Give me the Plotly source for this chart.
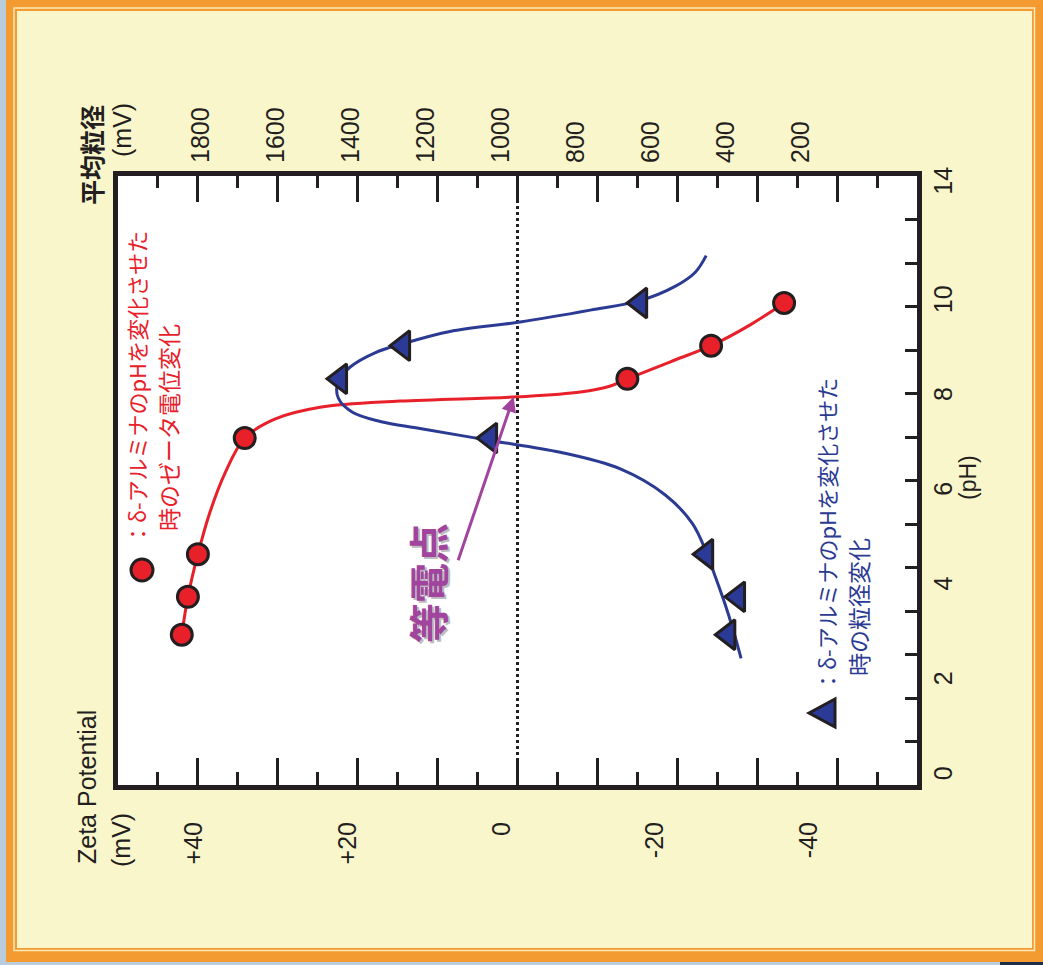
import plotly.graph_objects as go

# ---- figure geometry (pixels) ----
W, H = 1043, 965
L, R, T, B = 118, 126, 176, 180
PW, PH_PX = W - L - R, H - T - B

INK = "#231F20"
RED = "#E8202A"
BLUE_FILL = "#2B3A96"
BLUE_LINE = "#2B3A92"
PURPLE = "#A0449E"

# ---- measured points (same pH settings for both series) ----
PH = [3.0, 3.8, 4.7, 7.15, 8.4, 9.1, 10.0]
ZETA_MV = [43.7, 42.9, 41.6, 35.5, -14.3, -25.2, -34.7]
SIZE = [437, 411, 496, 1072, 1472, 1304, 672]

# ---- hand-fitted trend curves ----
ZETA_FIT_PH = [3.0, 3.8, 4.7, 5.6, 6.4, 7.15, 7.55, 7.8, 7.93, 8.02, 8.12, 8.25,
               8.4, 8.76, 9.1, 9.55, 10.0]
ZETA_FIT_MV = [43.7, 42.9, 41.6, 40.0, 38.1, 35.5, 31.6, 25.7, 15.3, 0.0, -8.2,
               -12.1, -14.3, -19.9, -25.2, -30.4, -34.7]

SIZE_FIT_PH = [2.5, 3.1, 3.7, 4.3, 4.75, 5.35, 5.95, 6.5, 6.85, 7.1, 7.35, 7.5,
               7.7, 8.0, 8.35, 8.65, 8.95, 9.15, 9.4, 9.6, 9.85, 10.05, 10.35,
               10.65, 11.0]
SIZE_FIT = [403, 424, 448, 475, 496, 533, 605, 725, 885, 1072, 1259, 1365, 1440,
            1477, 1477, 1445, 1379, 1301, 1179, 992, 805, 672, 579, 525, 496]

# ---- axis labels ----
ZETA_TICKS = [40, 20, 0, -20, -40]
ZETA_TICK_TEXT = ["+40", "+20", "0", "-20", "-40"]
SIZE_TICKS = [1800, 1600, 1400, 1200, 1000, 800, 600, 400, 200]
PH_TICKS = [0, 2, 4, 6, 8, 10, 12.5]
PH_TICK_TEXT = ["0", "2", "4", "6", "8", "10", "14"]

LEGEND_TEXT_1 = "：δ-アルミナのpHを変化させた"
LEGEND_ZETA_2 = "時のゼータ電位変化"
LEGEND_SIZE_2 = "時の粒径変化"
IEP_TEXT = "等電点"


def px(x):
    return (x - L) / PW


def py(y):
    return (H - B - y) / PH_PX


fig = go.Figure()

fig.add_trace(go.Scatter(x=ZETA_FIT_MV, y=ZETA_FIT_PH, mode="lines",
                         line=dict(color=RED, width=3, shape="spline", smoothing=1.0),
                         xaxis="x", yaxis="y", hoverinfo="skip"))
fig.add_trace(go.Scatter(x=SIZE_FIT, y=SIZE_FIT_PH, mode="lines",
                         line=dict(color=BLUE_LINE, width=3, shape="spline", smoothing=1.0),
                         xaxis="x2", yaxis="y", hoverinfo="skip"))
fig.add_trace(go.Scatter(x=ZETA_MV, y=PH, mode="markers",
                         marker=dict(symbol="circle", size=21, color=RED,
                                     line=dict(color=INK, width=3)),
                         xaxis="x", yaxis="y"))
fig.add_trace(go.Scatter(x=SIZE, y=PH, mode="markers",
                         marker=dict(symbol="triangle-left", size=26, color=BLUE_FILL,
                                     line=dict(color=INK, width=3)),
                         xaxis="x2", yaxis="y"))

# empty traces so the frame-tick axes get their own subplots
for xa, ya in (("x3", "y"), ("x4", "y"), ("x", "y2")):
    fig.add_trace(go.Scatter(x=[None], y=[None], mode="lines", xaxis=xa, yaxis=ya,
                             hoverinfo="skip", showlegend=False))

frame_ticks = dict(showticklabels=False, showgrid=False, zeroline=False, showline=False,
                   ticks="inside", tickwidth=3, tickcolor=INK, fixedrange=True)

fig.update_layout(
    width=W, height=H,
    margin=dict(l=L, r=R, t=T, b=B, autoexpand=False),
    paper_bgcolor="#B9CCDD", plot_bgcolor="white", showlegend=False,
    font=dict(family="Liberation Sans, Arial, sans-serif", size=25, color=INK),
    xaxis=dict(range=[52, -52], tickvals=ZETA_TICKS, ticktext=ZETA_TICK_TEXT,
               tickangle=-90, ticks="", showgrid=False, zeroline=False,
               showline=True, mirror=True, linewidth=5, linecolor=INK,
               ticklabelshift=16, ticklabelstandoff=22),
    xaxis2=dict(overlaying="x", side="top", anchor="y", range=[2064, -66],
                tickvals=SIZE_TICKS, tickangle=-90, ticks="", showgrid=False,
                zeroline=False, ticklabelshift=16, ticklabelstandoff=12),
    xaxis3=dict(overlaying="x", side="bottom", anchor="y", range=[0, 20],
                tick0=0, dtick=2, ticklen=27,
                minor=dict(tick0=0, dtick=1, ticks="inside", ticklen=13,
                           tickwidth=3, tickcolor=INK, showgrid=False),
                **frame_ticks),
    xaxis4=dict(overlaying="x", side="top", anchor="y", range=[0, 20],
                tick0=0, dtick=2, ticklen=26,
                minor=dict(tick0=0, dtick=1, ticks="inside", ticklen=12,
                           tickwidth=3, tickcolor=INK, showgrid=False),
                **frame_ticks),
    yaxis=dict(side="right", range=[-0.17, 12.68], tickvals=PH_TICKS,
               ticktext=PH_TICK_TEXT, tickangle=-90, ticks="", showgrid=False,
               zeroline=False, showline=True, mirror=True, linewidth=5,
               linecolor=INK, ticklabelstandoff=0),
    yaxis2=dict(overlaying="y", side="right", anchor="x", range=[0, 14],
                tick0=0, dtick=1, ticklen=12, **frame_ticks),
)

# ---- page background: orange frame with cream rule and pale yellow panel ----
shapes = [
    dict(type="rect", xref="paper", yref="paper", x0=px(6), x1=px(1043), y0=py(962), y1=py(0),
         fillcolor="#F39B30", line=dict(width=0), layer="below"),
    dict(type="rect", xref="paper", yref="paper", x0=px(1000), x1=px(1043), y0=py(965), y1=py(962),
         fillcolor="#1E2E4A", line=dict(width=0), layer="below"),
    dict(type="rect", xref="paper", yref="paper", x0=px(14), x1=px(1034.5), y0=py(950.5), y1=py(8),
         fillcolor="rgba(0,0,0,0)", line=dict(color="#FCE9B8", width=1.5), layer="below"),
    dict(type="rect", xref="paper", yref="paper", x0=px(17), x1=px(1032), y0=py(948), y1=py(11),
         fillcolor="#FAF6CB", line=dict(width=0), layer="below"),
    dict(type="rect", xref="paper", yref="paper", x0=0, x1=1, y0=0, y1=1,
         fillcolor="white", line=dict(width=0), layer="below"),
    # zero-potential reference line
    dict(type="line", xref="x", yref="paper", x0=0, x1=0, y0=0, y1=1,
         line=dict(color=INK, width=3, dash="dot"), layer="below"),
    # legend glyphs
    dict(type="circle", xref="paper", yref="paper", x0=px(131), x1=px(153),
         y0=py(581), y1=py(559), fillcolor=RED, line=dict(color=INK, width=3)),
    dict(type="path", xref="paper", yref="paper",
         path=f"M {px(809)},{py(713)} L {px(835)},{py(699)} L {px(835)},{py(727)} Z",
         fillcolor=BLUE_FILL, line=dict(color=INK, width=3)),
]
fig.update_layout(shapes=shapes)

jp = "Noto Sans CJK JP"
ann = [
    # axis titles
    dict(text="Zeta Potential", x=px(87), y=py(787), font=dict(size=25)),
    dict(text="(mV)", x=px(121), y=py(840), font=dict(size=25)),
    dict(text="<b>平均粒径</b>", x=px(91), y=py(155), font=dict(size=25, family=jp)),
    dict(text="(mV)", x=px(122), y=py(130), font=dict(size=25)),
    dict(text="(pH)", x=px(968), y=py(478), font=dict(size=23)),
    # series captions
    dict(text=LEGEND_TEXT_1, x=px(136), y=py(388), font=dict(size=22, family=jp, color=RED)),
    dict(text=LEGEND_ZETA_2, x=px(168), y=py(428), font=dict(size=23, family=jp, color=RED)),
    dict(text=LEGEND_TEXT_1, x=px(826), y=py(535), font=dict(size=22, family=jp, color=BLUE_LINE)),
    dict(text=LEGEND_SIZE_2, x=px(858), y=py(607), font=dict(size=23, family=jp, color=BLUE_LINE)),
    # isoelectric point callout
    dict(text="<b>" + IEP_TEXT + "</b>", x=px(429), y=py(585),
         font=dict(size=40, family=jp, color="#BDBDBD")),
    dict(text="<b>" + IEP_TEXT + "</b>", x=px(427), y=py(583),
         font=dict(size=40, family=jp, color=PURPLE)),
]
for a in ann:
    a.update(xref="paper", yref="paper", showarrow=False, textangle=-90,
             xanchor="center", yanchor="middle")
ann.append(dict(x=0.5, y=8.02, xref="x", yref="y", text="", showarrow=True,
                ax=-56, ay=165, axref="pixel", ayref="pixel",
                arrowhead=2, arrowsize=1, arrowwidth=3, arrowcolor=PURPLE))
fig.update_layout(annotations=ann)

fig.write_html("out.html")
